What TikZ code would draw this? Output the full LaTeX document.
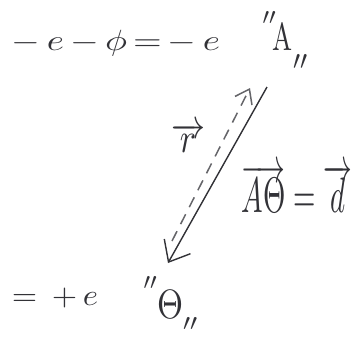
\documentclass[tikz,border=0pt]{standalone}
\usetikzlibrary{arrows.meta}
\definecolor{pencil}{RGB}{50,50,55}
\newcommand\myfit[3]{\resizebox*{#1pt}{#2pt}{#3}}
\tikzset{
  hand/.style={inner sep=0pt, outer sep=0pt, text=pencil},
  solidarrow/.style={draw=pencil, line width=1.4pt, -{Straight Barb[length=18pt,width=30pt,line width=1.4pt]}},
  dasharrow/.style={draw=pencil!75, line width=1.5pt, dash pattern=on 11pt off 8pt, -{Straight Barb[length=13pt,width=19pt,line width=1.5pt]}}
}
\begin{document}
\begin{tikzpicture}[x=1pt,y=-1pt]
\useasboundingbox[fill=white] (0,0) rectangle (359,338);
% texts
\node[hand] (eqtop) at (116,43) {\myfit{208}{26}{$-\,e\,{-}\,\phi\,{=}\,{-}\,e$}};
\node[hand] (qa1) at (269,18) {\myfit{13}{13}{$\prime\prime$}};
\node[hand] (A) at (282,36) {\myfit{20}{28}{A}};
\node[hand] (qa2) at (300,62) {\myfit{14}{15}{$\prime\prime$}};
\node[hand] (r) at (188,138) {\scalebox{3.4}[4.2]{$\overrightarrow{r}$}};
\node[hand] (ad) at (297,188) {\myfit{111}{48}{$\overrightarrow{A\Theta}=\overrightarrow{d}$}};
\node[hand] (eqbot) at (55,298) {\myfit{86}{20}{$=\,+\,e$}};
\node[hand] (qo1) at (150,283) {\myfit{13}{13}{$\prime\prime$}};
\node[hand] (O) at (170,304) {\myfit{26}{28}{$\Theta$}};
\node[hand] (qo2) at (190,324) {\myfit{14}{13}{$\prime\prime$}};
% arrows
\coordinate (s1) at (267,87);
\coordinate (s2) at (168,263);
\coordinate (d1) at (172,241);
\coordinate (d2) at (250,88);
\draw[solidarrow] (s1) -- (s2);
\draw[dasharrow] (d1) -- (d2);
\end{tikzpicture}
\end{document}
